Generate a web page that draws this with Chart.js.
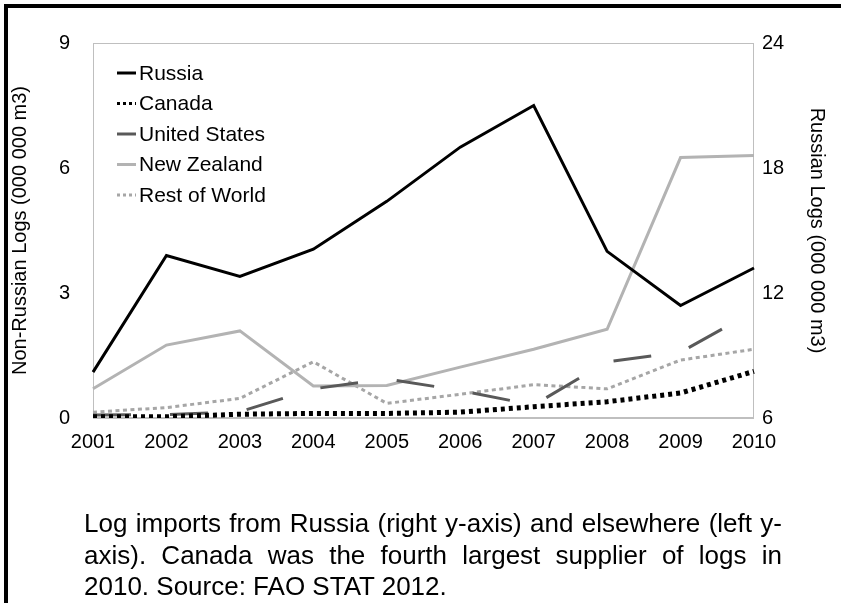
<!DOCTYPE html>
<html>
<head>
<meta charset="utf-8">
<title>Log imports</title>
<script src="https://cdn.jsdelivr.net/npm/chart.js@4.4.1/dist/chart.umd.min.js"></script>
<style>
  body { margin: 0; background: #fff; }
  #wrap { position: relative; width: 841px; height: 603px; overflow: hidden; background: #fff; }
  #chart { position: absolute; left: 0; top: 0; }
  .edge { position: absolute; background: #000; }
  #caption {
    position: absolute; left: 84px; top: 508px; width: 698px;
    font: 26px "Liberation Sans", Arial, sans-serif; line-height: 31.5px; color: #000;
  }
  #caption div { white-space: nowrap; }
  #caption .just { text-align: justify; text-align-last: justify; }
</style>
</head>
<body>
<div id="wrap">
  <canvas id="chart" width="841" height="603"></canvas>
  <div class="edge" style="left:4px;top:4px;width:837px;height:4px"></div>
  <div class="edge" style="left:4px;top:4px;width:4px;height:599px"></div>
  <div id="caption">
    <div class="just">Log imports from Russia (right y-axis) and elsewhere (left y-</div>
    <div class="just">axis). Canada was the fourth largest supplier of logs in</div>
    <div>2010. Source: FAO STAT 2012.</div>
  </div>
</div>
<script>
// years and imports, million m3
var years = ['2001', '2002', '2003', '2004', '2005', '2006', '2007', '2008', '2009', '2010'];
var russia = [8.2, 13.8, 12.8, 14.1, 16.4, 19.0, 21.0, 14.0, 11.4, 13.2];
var canada = [0.03, 0.03, 0.09, 0.11, 0.11, 0.14, 0.27, 0.39, 0.6, 1.12];
var unitedStates = [0.07, 0.08, 0.15, 0.7, 0.94, 0.66, 0.31, 1.35, 1.58, 2.56];
var newZealand = [0.7, 1.75, 2.09, 0.77, 0.78, 1.22, 1.65, 2.13, 6.25, 6.3];
var restOfWorld = [0.14, 0.25, 0.47, 1.35, 0.35, 0.57, 0.8, 0.7, 1.39, 1.65];

var leftTicks = [0, 3, 6, 9];
var rightTicks = [6, 12, 18, 24];

var FONT = '"Liberation Sans", Arial, sans-serif';

// grey box round the plot area
var plotFrame = {
  id: 'plotFrame',
  beforeDatasetsDraw: function(chart) {
    var a = chart.chartArea, ctx = chart.ctx;
    ctx.save();
    ctx.strokeStyle = '#bfbfbf';
    ctx.lineWidth = 1;
    ctx.strokeRect(a.left + 0.5, a.top + 0.5, a.right - a.left - 1, a.bottom - a.top);
    ctx.lineWidth = 2;
    ctx.beginPath();
    ctx.moveTo(a.left, a.bottom);
    ctx.lineTo(a.right, a.bottom);
    ctx.stroke();
    ctx.restore();
  }
};

// legend stacked in the top left corner of the plot
var insideLegend = {
  id: 'insideLegend',
  afterDatasetsDraw: function(chart) {
    var a = chart.chartArea, ctx = chart.ctx;
    ctx.save();
    ctx.font = '21px ' + FONT;
    ctx.textBaseline = 'middle';
    chart.data.datasets.forEach(function(ds, i) {
      var y = a.top + 30 + i * 30.5;
      var x = a.left + 24;
      ctx.beginPath();
      ctx.strokeStyle = ds.borderColor;
      ctx.lineWidth = Math.min(ds.borderWidth, 3);
      ctx.setLineDash(ds.legendDash || []);
      ctx.moveTo(x, y);
      ctx.lineTo(x + 19, y);
      ctx.stroke();
      ctx.setLineDash([]);
      ctx.fillStyle = '#000';
      ctx.fillText(ds.label, x + 22, y + 1);
    });
    ctx.restore();
  }
};

function line(label, data, color, width, dash, legendDash, axis) {
  return {
    label: label,
    data: data,
    yAxisID: axis,
    borderColor: color,
    borderWidth: width,
    borderDash: dash,
    legendDash: legendDash,
    borderCapStyle: 'butt',
    borderJoinStyle: 'miter',
    pointRadius: 0,
    tension: 0,
    fill: false
  };
}

new Chart(document.getElementById('chart'), {
  type: 'line',
  data: {
    labels: years,
    datasets: [
      line('Russia', russia, '#000000', 3, [], [], 'y1'),
      line('Canada', canada, '#000000', 5, [4, 4], [3, 3], 'y'),
      line('United States', unitedStates, '#595959', 3, [38, 39], [], 'y'),
      line('New Zealand', newZealand, '#b3b3b3', 3, [], [], 'y'),
      line('Rest of World', restOfWorld, '#a6a6a6', 3, [4, 3.5], [3, 3], 'y')
    ]
  },
  options: {
    responsive: false,
    animation: false,
    layout: { padding: { top: 43, left: 0, right: 0, bottom: 0 } },
    plugins: { legend: { display: false }, tooltip: { enabled: false } },
    scales: {
      x: {
        offset: false,
        grid: { display: false, drawTicks: false },
        border: { display: false },
        ticks: { color: '#000', font: { family: FONT, size: 20 }, padding: 12, maxRotation: 0, autoSkip: false },
        afterFit: function(s) { s.height = 185; }
      },
      y: {
        position: 'left',
        min: 0, max: 9,
        afterBuildTicks: function(s) { s.ticks = leftTicks.map(function(v) { return { value: v }; }); },
        grid: { display: false, drawTicks: false },
        border: { display: false },
        ticks: { color: '#000', font: { family: FONT, size: 20 }, padding: 23 },
        title: { display: true, text: 'Non-Russian Logs (000 000 m3)', color: '#000', font: { family: FONT, size: 20 }, padding: { top: 8, bottom: 0 } },
        afterFit: function(s) { s.width = 93; }
      },
      y1: {
        position: 'right',
        min: 6, max: 24,
        afterBuildTicks: function(s) { s.ticks = rightTicks.map(function(v) { return { value: v }; }); },
        grid: { display: false, drawTicks: false },
        border: { display: false },
        ticks: { color: '#000', font: { family: FONT, size: 20 }, padding: 8 },
        title: { display: true, text: 'Russian Logs (000 000 m3)', color: '#000', font: { family: FONT, size: 20 }, padding: { top: 12, bottom: 0 } },
        afterFit: function(s) { s.width = 87; }
      }
    }
  },
  plugins: [plotFrame, insideLegend]
});
</script>
</body>
</html>
